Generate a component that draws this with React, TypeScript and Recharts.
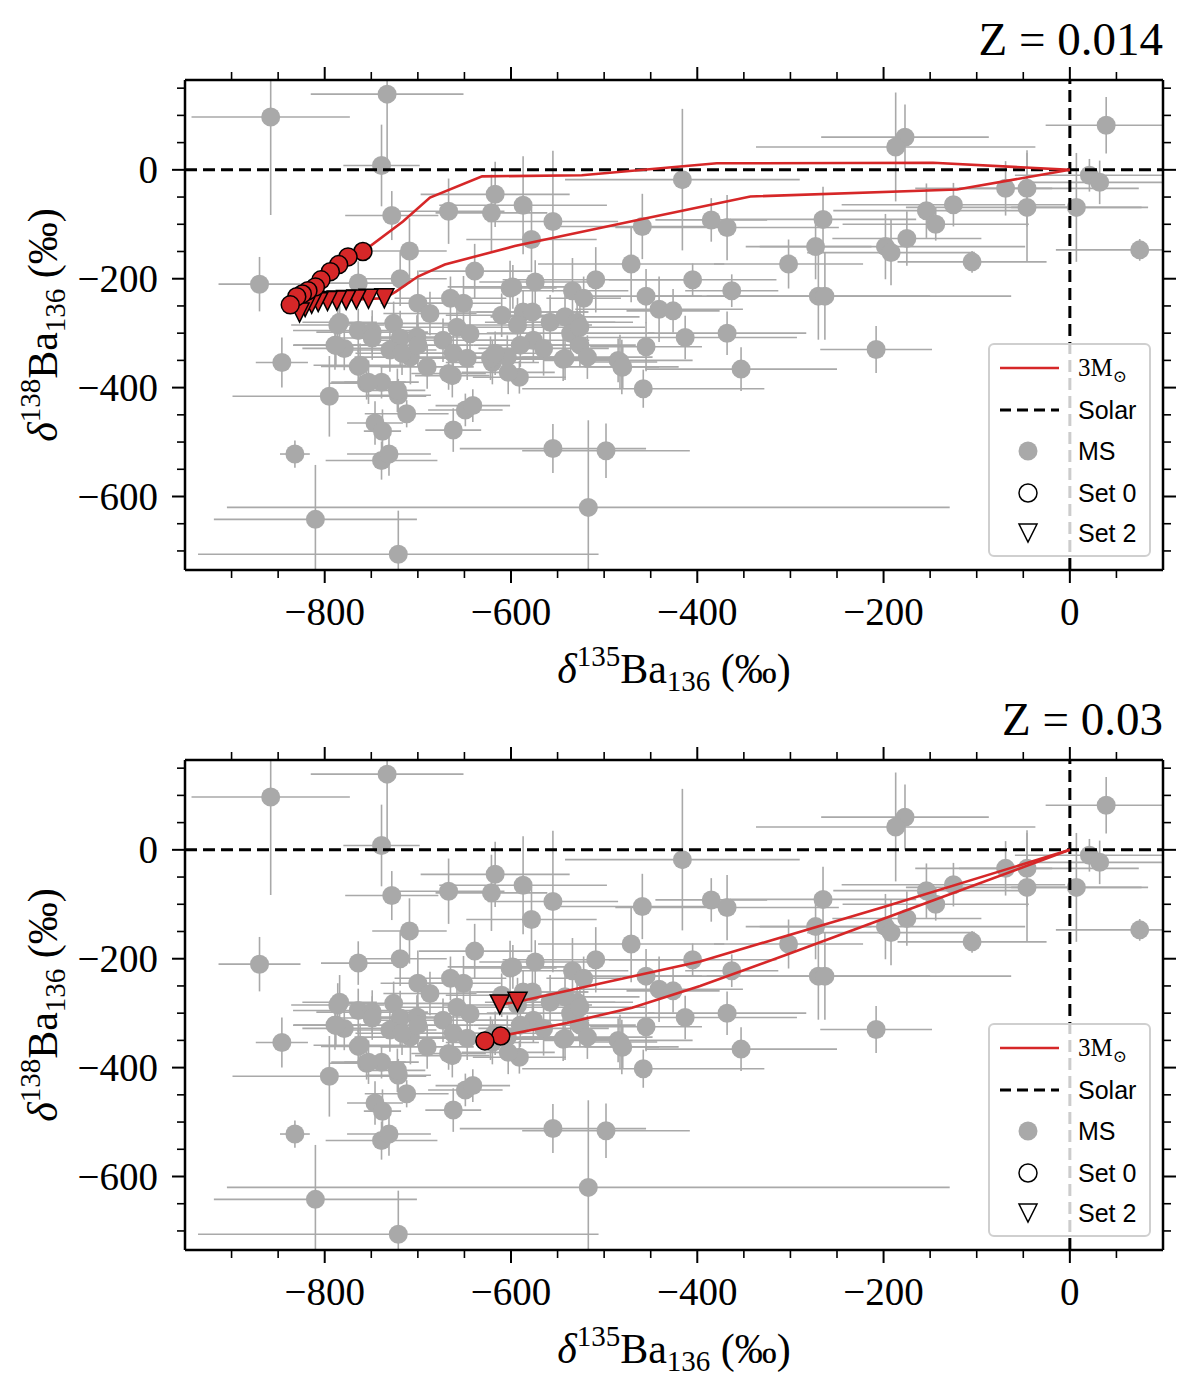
import React from 'react';
import { ScatterChart, Scatter, XAxis, YAxis, ErrorBar, Legend, Label } from 'recharts';

// --- MS grains (same in both panels) ---
const MS_X = [
  -858, -733, -739, -728, -667, -617, -621, -870, -709, -639, -719, -764, -601, -846, -795, -832, -810, -721, -517,
  -739, -731, -746, -738, -712, -662, -649, -641, -755, -739, -721, -764, -789, -779, -620, -663, -591, -544, -483,
  -481, -455, -413, -368, -353, -458, -555, -498, -416, -587, -555, -578, -459, -385, -368, -265, -273, -471, -302,
  -509, -405, -598, -574, -534, -522, -455, -441, -426, -363, -270, -263, 39, -177, -187, 21, 32, 7, -46, -69, -46,
  -125, -154, -144, -175, -198, -192, -105, 75, -208, -784, -788, -764, -749, -762, -753, -722, -726, -719, -730,
  -708, -700, -687, -665, -651, -673, -658, -644, -662, -647, -667, -622, -690, -701, -610, -587, -577, -558, -542,
  -529, -593, -536, -526, -576, -590, -565, -526, -604, -542, -518, -485, -480, -786, -749, -717, -700, -617, -603,
];
const MS_Y = [
  97, 139, 8, -84, -76, -45, -79, -210, -149, -186, -200, -208, -217, -354, -416, -522, -642, -706, -620,
  -534, -522, -465, -480, -448, -478, -441, -433, -392, -390, -414, -361, -322, -328, -354, -378, -381, -348, -353,
  -362, -325, -308, -300, -366, -402, -512, -516, -18, -65, -95, -128, -104, -92, -106, -91, -141, -173, -173,
  -202, -202, -215, -206, -222, -236, -232, -256, -259, -222, -232, -232, 82, 60, 42, -10, -23, -69, -34, -34, -69,
  -64, -75, -100, -126, -141, -152, -169, -147, -330, -280, -322, -295, -298, -359, -390, -405, -282, -309, -331,
  -344, -245, -264, -236, -245, -313, -289, -301, -337, -346, -374, -346, -362, -307, -267, -261, -261, -280, -270,
  -280, -285, -300, -289, -313, -322, -328, -322, -344, -346, -344, -350, -362, -285, -309, -337, -322, -337, -372,
];
const MS_XERR = [
  85, 82, 41, 50, 60, 80, 60, 44, 40, 60, 50, 40, 50, 28, 104, 16, 109, 215, 388,
  60, 45, 30, 20, 45, 30, 40, 40, 40, 40, 35, 40, 45, 45, 50, 40, 50, 60, 40,
  40, 60, 120, 85, 103, 130, 100, 90, 126, 90, 70, 70, 90, 60, 120, 100, 60, 100, 80,
  100, 90, 70, 60, 60, 40, 60, 90, 50, 50, 120, 200, 65, 90, 150, 80, 80, 70, 120, 50, 130,
  120, 100, 100, 80, 150, 90, 80, 90, 60, 40, 45, 70, 60, 50, 40, 30, 60, 40, 50,
  60, 40, 50, 60, 40, 70, 60, 50, 70, 60, 40, 50, 50, 60, 60, 70, 60, 70, 80,
  60, 80, 90, 70, 60, 50, 70, 60, 60, 60, 70, 80, 60, 50, 40, 50, 60, 50, 50,
];
const MS_YERR = [
  180, 120, 75, 45, 60, 60, 70, 50, 60, 50, 50, 40, 50, 46, 74, 25, 100, 80, 160,
  35, 40, 40, 40, 25, 40, 30, 30, 30, 30, 30, 30, 45, 40, 40, 40, 30, 40, 50,
  50, 45, 40, 40, 40, 35, 45, 50, 130, 90, 130, 60, 60, 40, 60, 60, 60, 70, 45,
  60, 30, 40, 40, 60, 40, 50, 60, 40, 30, 80, 80, 52, 60, 100, 30, 40, 100, 70, 50, 100,
  40, 50, 30, 50, 60, 60, 20, 20, 43, 50, 40, 40, 40, 40, 40, 40, 40, 50, 40,
  50, 60, 40, 40, 50, 40, 50, 50, 40, 40, 30, 40, 40, 40, 40, 40, 40, 50, 40,
  40, 50, 40, 40, 40, 40, 50, 40, 40, 40, 40, 40, 40, 40, 40, 40, 40, 40, 40,
];

// --- Z = 0.014 models ---
const Z014_LINE0_X = [0, -147, -379, -524, -631, -687, -716, -759, -775, -785, -794, -804, -810, -818, -824, -830, -837];
const Z014_LINE0_Y = [0, 13, 12, -10, -12, -51, -95, -150, -160, -174, -187, -202, -215, -222, -228, -233, -248];
const Z014_SET0_X = [-759, -775, -785, -794, -804, -810, -818, -824, -830, -837];
const Z014_SET0_Y = [-150, -160, -174, -187, -202, -215, -222, -228, -233, -248];
const Z014_LINE2_X = [0, -121, -343, -469, -596, -671, -700, -724, -736, -753, -766, -777, -787, -797, -807, -814, -821, -827];
const Z014_LINE2_Y = [0, -36, -49, -94, -140, -174, -196, -224, -236, -237, -238, -239, -240, -241, -243, -246, -252, -262];
const Z014_SET2_X = [-736, -753, -766, -777, -787, -797, -807, -814, -821, -827];
const Z014_SET2_Y = [-236, -237, -238, -239, -240, -241, -243, -246, -252, -262];

// --- Z = 0.03 models ---
const Z03_LINE0_X = [0, -150, -300, -397, -470, -540, -611, -628];
const Z03_LINE0_Y = [0, -95, -190, -250, -290, -318, -342, -351];
const Z03_SET0_X = [-611, -628];
const Z03_SET0_Y = [-342, -351];
const Z03_LINE2_X = [0, -200, -397, -593, -612];
const Z03_LINE2_Y = [0, -105, -205, -279, -284];
const Z03_SET2_X = [-593, -612];
const Z03_SET2_Y = [-279, -284];

const X_DOMAIN = [-950, 100];
const Y_DOMAIN = [-735, 165];
const X_TICKS = [-900, -850, -800, -750, -700, -650, -600, -550, -500, -450, -400, -350, -300, -250, -200, -150, -100, -50, 0, 50];
const X_MAJOR = [-800, -600, -400, -200, 0];
const Y_TICKS = [-700, -650, -600, -550, -500, -450, -400, -350, -300, -250, -200, -150, -100, -50, 0, 50, 100, 150];
const Y_MAJOR = [-600, -400, -200, 0];
const LEGEND_LABELS = ['Solar', 'MS', 'Set 0', 'Set 2'];

const RED = '#d62728';
const GREY = '#a9a9a9';
const SERIF = '"Liberation Serif", "DejaVu Serif", serif';
const SANS = '"Liberation Sans", Arial, sans-serif';

const zip = (xs: number[], ys: number[]) => xs.map((x, i) => ({ x, y: ys[i] }));

// error bars are cut at the frame, like the axes clip them
const cut = (v: number, e: number, [lo, hi]: number[]) => [Math.min(e, v - lo), Math.min(e, hi - v)];
const msData = MS_X.map((x, i) => ({
  x,
  y: MS_Y[i],
  ex: cut(x, MS_XERR[i], X_DOMAIN),
  ey: cut(MS_Y[i], MS_YERR[i], Y_DOMAIN),
}));
const hLine = [{ x: X_DOMAIN[0], y: 0 }, { x: X_DOMAIN[1], y: 0 }];
const vLine = [{ x: 0, y: Y_DOMAIN[0] }, { x: 0, y: Y_DOMAIN[1] }];

const fmt = (v: number) => (v < 0 ? '\u2212' + Math.abs(v) : String(v));

const tickLen = (major: boolean) => (major ? 13 : 8);
const tickW = (major: boolean) => (major ? 2 : 1.6);

const BottomTick = (p: any) => {
  const v = p.payload.value;
  const major = X_MAJOR.includes(v);
  return (
    <g>
      <line x1={p.x} x2={p.x} y1={p.y} y2={p.y + tickLen(major)} stroke="#000" strokeWidth={tickW(major)} />
      {major && (
        <text x={p.x} y={p.y + 55} textAnchor="middle" fontFamily={SERIF} fontSize={39} fill="#000">
          {fmt(v)}
        </text>
      )}
    </g>
  );
};
const TopTick = (p: any) => {
  const major = X_MAJOR.includes(p.payload.value);
  return <line x1={p.x} x2={p.x} y1={p.y} y2={p.y - tickLen(major)} stroke="#000" strokeWidth={tickW(major)} />;
};
const LeftTick = (p: any) => {
  const v = p.payload.value;
  const major = Y_MAJOR.includes(v);
  return (
    <g>
      <line x1={p.x} x2={p.x - tickLen(major)} y1={p.y} y2={p.y} stroke="#000" strokeWidth={tickW(major)} />
      {major && (
        <text x={p.x - 27} y={p.y + 13} textAnchor="end" fontFamily={SERIF} fontSize={39} fill="#000">
          {fmt(v)}
        </text>
      )}
    </g>
  );
};
const RightTick = (p: any) => {
  const major = Y_MAJOR.includes(p.payload.value);
  return <line x1={p.x} x2={p.x + tickLen(major)} y1={p.y} y2={p.y} stroke="#000" strokeWidth={tickW(major)} />;
};

const XTitle = ({ viewBox }: any) => {
  const cx = viewBox.x + viewBox.width / 2;
  const y = viewBox.y + 113;
  return (
    <text x={cx} y={y} textAnchor="middle" fontFamily={SERIF} fontSize={42} fill="#000">
      <tspan fontStyle="italic">δ</tspan>
      <tspan fontSize={29} dy={-17}>135</tspan>
      <tspan dy={17}>Ba</tspan>
      <tspan fontSize={29} dy={8}>136</tspan>
      <tspan dy={-8}> (‰)</tspan>
    </text>
  );
};
const YTitle = ({ viewBox }: any) => {
  const x = viewBox.x - 28;
  const cy = viewBox.y + viewBox.height / 2;
  return (
    <text x={x} y={cy} transform={`rotate(-90 ${x} ${cy})`} textAnchor="middle" fontFamily={SERIF} fontSize={42} fill="#000">
      <tspan fontStyle="italic">δ</tspan>
      <tspan fontSize={29} dy={-17}>138</tspan>
      <tspan dy={17}>Ba</tspan>
      <tspan fontSize={29} dy={8}>136</tspan>
      <tspan dy={-8}> (‰)</tspan>
    </text>
  );
};
const makeTitle = (title: string) => ({ viewBox }: any) => (
  <text x={viewBox.x + viewBox.width} y={viewBox.y + 15} textAnchor="end" fontFamily={SERIF} fontSize={47} fill="#000">
    {title}
  </text>
);

const GreyDot = (p: any) => <circle cx={p.cx} cy={p.cy} r={9.5} fill={GREY} />;
const RedDot = (p: any) => <circle cx={p.cx} cy={p.cy} r={9} fill={RED} stroke="#000" strokeWidth={1.5} />;
const RedTri = (p: any) => {
  const s = 9.5;
  return (
    <polygon
      points={`${p.cx - s},${p.cy - s} ${p.cx + s},${p.cy - s} ${p.cx},${p.cy + s}`}
      fill={RED}
      stroke="#000"
      strokeWidth={1.5}
    />
  );
};
const NoShape = () => <g />;

const DASH = { stroke: '#000', strokeWidth: 3, strokeDasharray: '12 6' };

const LegendBox = () => {
  const rows = [23, 65, 106, 148, 188];
  return (
    <div
      style={{
        width: 159,
        height: 210,
        border: '2px solid #cfcfcf',
        borderRadius: 6,
        background: 'rgba(255,255,255,0.8)',
      }}
    >
      <svg width={159} height={210} style={{ display: 'block' }}>
        <line x1={10} x2={69} y1={rows[0]} y2={rows[0]} stroke={RED} strokeWidth={2.5} />
        <text x={88} y={rows[0] + 8} fontFamily={SERIF} fontSize={25} fill="#000">
          3M<tspan fontSize={17} dy={6}>⊙</tspan>
        </text>
        <line x1={10} x2={69} y1={rows[1]} y2={rows[1]} {...DASH} strokeDasharray="11 6" />
        <circle cx={38} cy={rows[2]} r={9.5} fill={GREY} />
        <circle cx={38} cy={rows[3]} r={9} fill="none" stroke="#000" strokeWidth={1.5} />
        <polygon
          points={`${38 - 9},${rows[4] - 9} ${38 + 9},${rows[4] - 9} ${38},${rows[4] + 9}`}
          fill="none"
          stroke="#000"
          strokeWidth={1.5}
        />
        {LEGEND_LABELS.map((t, i) => (
          <text key={t} x={88} y={rows[i + 1] + 9} fontFamily={SANS} fontSize={25} fill="#000">
            {t}
          </text>
        ))}
      </svg>
    </div>
  );
};

type PanelProps = {
  title: string;
  line0: { x: number; y: number }[];
  line2: { x: number; y: number }[];
  set0: { x: number; y: number }[];
  set2: { x: number; y: number }[];
};

function Panel({ title, line0, line2, set0, set2 }: PanelProps) {
  return (
    <ScatterChart width={1200} height={700} margin={{ top: 40, right: 27, bottom: 40, left: 85 }}>
      <XAxis
        xAxisId="b"
        type="number"
        dataKey="x"
        domain={X_DOMAIN}
        allowDataOverflow
        ticks={X_TICKS}
        interval={0}
        height={90}
        tickSize={0}
        tickMargin={0}
        tickLine={false}
        tick={BottomTick}
        axisLine={{ stroke: '#000', strokeWidth: 2.5 }}
      >
        <Label content={XTitle} />
      </XAxis>
      <XAxis
        xAxisId="t"
        orientation="top"
        type="number"
        dataKey="x"
        domain={X_DOMAIN}
        allowDataOverflow
        ticks={X_TICKS}
        interval={0}
        height={40}
        tickSize={0}
        tickMargin={0}
        tickLine={false}
        tick={TopTick}
        axisLine={{ stroke: '#000', strokeWidth: 2.5 }}
      >
        <Label content={makeTitle(title)} />
      </XAxis>
      <YAxis
        yAxisId="l"
        type="number"
        dataKey="y"
        domain={Y_DOMAIN}
        allowDataOverflow
        ticks={Y_TICKS}
        interval={0}
        width={100}
        tickSize={0}
        tickMargin={0}
        tickLine={false}
        tick={LeftTick}
        axisLine={{ stroke: '#000', strokeWidth: 2.5 }}
      >
        <Label content={YTitle} />
      </YAxis>
      <YAxis
        yAxisId="r"
        orientation="right"
        type="number"
        dataKey="y"
        domain={Y_DOMAIN}
        allowDataOverflow
        ticks={Y_TICKS}
        interval={0}
        width={10}
        tickSize={0}
        tickMargin={0}
        tickLine={false}
        tick={RightTick}
        axisLine={{ stroke: '#000', strokeWidth: 2.5 }}
      />
      <Scatter xAxisId="b" yAxisId="l" data={msData} shape={GreyDot} isAnimationActive={false} legendType="none">
        <ErrorBar dataKey="ex" direction="x" width={0} stroke={GREY} strokeWidth={1.6} isAnimationActive={false} />
        <ErrorBar dataKey="ey" direction="y" width={0} stroke={GREY} strokeWidth={1.6} isAnimationActive={false} />
      </Scatter>
      <Scatter xAxisId="t" yAxisId="r" data={hLine} shape={NoShape} line={DASH} isAnimationActive={false} legendType="none" />
      <Scatter xAxisId="t" yAxisId="r" data={vLine} shape={NoShape} line={DASH} isAnimationActive={false} legendType="none" />
      <Scatter
        xAxisId="b"
        yAxisId="l"
        data={line0}
        shape={NoShape}
        line={{ stroke: RED, strokeWidth: 2.6 }}
        isAnimationActive={false}
        legendType="none"
      />
      <Scatter
        xAxisId="b"
        yAxisId="l"
        data={line2}
        shape={NoShape}
        line={{ stroke: RED, strokeWidth: 2.6 }}
        isAnimationActive={false}
        legendType="none"
      />
      <Scatter xAxisId="b" yAxisId="l" data={set2} shape={RedTri} isAnimationActive={false} legendType="none" />
      <Scatter xAxisId="b" yAxisId="l" data={set0} shape={RedDot} isAnimationActive={false} legendType="none" />
      <Legend
        layout="vertical"
        align="center"
        verticalAlign="middle"
        content={LegendBox}
        wrapperStyle={{ left: 988, top: 343, width: 163, height: 214 }}
      />
    </ScatterChart>
  );
}

export default function App() {
  return (
    <div style={{ position: 'absolute', left: 0, top: 0, width: 1200, height: 1389, background: '#fff' }}>
      <div style={{ position: 'absolute', left: 0, top: 0 }}>
        <Panel
          title="Z = 0.014"
          line0={zip(Z014_LINE0_X, Z014_LINE0_Y)}
          line2={zip(Z014_LINE2_X, Z014_LINE2_Y)}
          set0={zip(Z014_SET0_X, Z014_SET0_Y)}
          set2={zip(Z014_SET2_X, Z014_SET2_Y)}
        />
      </div>
      <div style={{ position: 'absolute', left: 0, top: 680 }}>
        <Panel
          title="Z = 0.03"
          line0={zip(Z03_LINE0_X, Z03_LINE0_Y)}
          line2={zip(Z03_LINE2_X, Z03_LINE2_Y)}
          set0={zip(Z03_SET0_X, Z03_SET0_Y)}
          set2={zip(Z03_SET2_X, Z03_SET2_Y)}
        />
      </div>
    </div>
  );
}
